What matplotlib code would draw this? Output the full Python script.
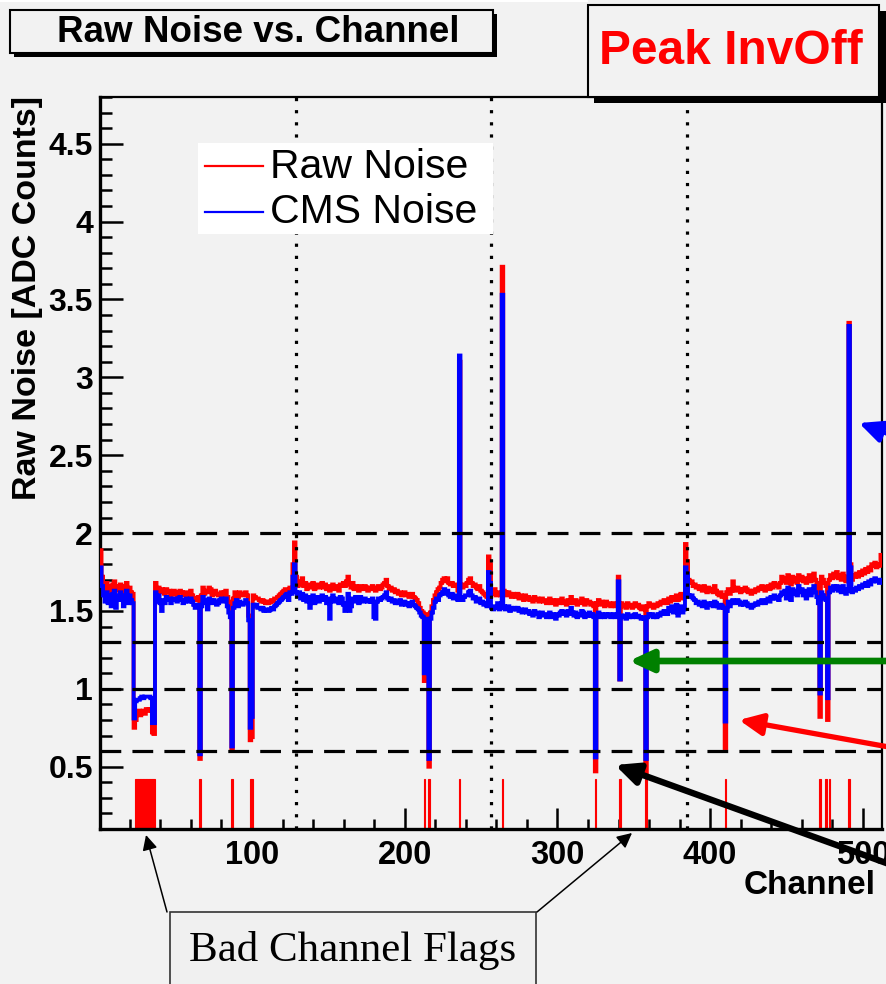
import numpy as np
import matplotlib
matplotlib.use("Agg")
import matplotlib.pyplot as plt
from matplotlib.patches import Rectangle
from matplotlib.patches import ArrowStyle
from matplotlib.ticker import MultipleLocator, FixedLocator, FixedFormatter

plt.rcParams['font.family'] = ['Liberation Sans', 'DejaVu Sans']

# ---------------- data ----------------
channels = np.arange(1, 513)

raw_noise = [
    1.89, 1.72, 1.66, 1.63, 1.68, 1.64, 1.66, 1.62, 1.67, 1.69, 1.64, 1.66, 1.63, 1.67, 1.65, 1.62,
    1.66, 1.68, 1.63, 1.65, 1.62, 1.61, 0.75, 0.80, 0.84, 0.86, 0.83, 0.85, 0.86, 0.84, 0.87, 0.86,
    0.87, 0.86, 0.72, 0.71, 1.68, 1.63, 1.65, 1.62, 1.64, 1.63, 1.61, 1.64, 1.62, 1.63, 1.60, 1.62,
    1.63, 1.61, 1.60, 1.62, 1.63, 1.62, 1.60, 1.61, 1.62, 1.60, 1.61, 1.63, 1.60, 1.58, 1.57, 1.58,
    1.59, 0.55, 1.60, 1.65, 1.61, 1.63, 1.62, 1.65, 1.64, 1.60, 1.62, 1.63, 1.61, 1.60, 1.61, 1.62,
    1.60, 1.62, 1.63, 1.59, 1.56, 1.50, 0.61, 1.58, 1.62, 1.61, 1.59, 1.62, 1.61, 1.60, 1.61, 1.62,
    1.60, 1.47, 0.67, 0.69, 1.60, 1.59, 1.58, 1.58, 1.57, 1.56, 1.57, 1.56, 1.55, 1.56, 1.55, 1.56,
    1.57, 1.56, 1.58, 1.58, 1.59, 1.60, 1.61, 1.62, 1.63, 1.64, 1.64, 1.63, 1.65, 1.64, 1.80, 1.94,
    1.72, 1.66, 1.69, 1.67, 1.71, 1.66, 1.68, 1.64, 1.67, 1.65, 1.66, 1.68, 1.64, 1.66, 1.67, 1.65,
    1.66, 1.68, 1.65, 1.67, 1.64, 1.66, 1.63, 1.65, 1.67, 1.64, 1.66, 1.65, 1.63, 1.67, 1.66, 1.68,
    1.66, 1.69, 1.72, 1.67, 1.65, 1.68, 1.64, 1.66, 1.65, 1.63, 1.66, 1.65, 1.64, 1.66, 1.65, 1.63,
    1.65, 1.64, 1.66, 1.64, 1.63, 1.65, 1.66, 1.64, 1.65, 1.67, 1.68, 1.70, 1.66, 1.64, 1.65, 1.63,
    1.64, 1.62, 1.63, 1.61, 1.62, 1.60, 1.61, 1.62, 1.60, 1.61, 1.59, 1.60, 1.61, 1.59, 1.58, 1.57,
    1.55, 1.52, 1.50, 1.49, 1.05, 1.48, 1.47, 0.50, 1.49, 1.53, 1.57, 1.60, 1.62, 1.64, 1.65, 1.68,
    1.70, 1.71, 1.69, 1.71, 1.68, 1.67, 1.68, 1.66, 1.67, 1.66, 1.63, 3.10, 1.66, 1.65, 1.67, 1.66,
    1.68, 1.70, 1.71, 1.68, 1.66, 1.67, 1.65, 1.64, 1.66, 1.63, 1.62, 1.61, 1.60, 1.59, 1.85, 1.80,
    1.62, 1.61, 1.64, 1.60, 1.62, 1.61, 1.60, 3.71, 1.63, 1.62, 1.60, 1.62, 1.61, 1.59, 1.61, 1.60,
    1.59, 1.61, 1.58, 1.60, 1.59, 1.57, 1.60, 1.58, 1.59, 1.57, 1.58, 1.56, 1.59, 1.57, 1.58, 1.56,
    1.57, 1.58, 1.56, 1.57, 1.55, 1.56, 1.58, 1.55, 1.57, 1.56, 1.54, 1.57, 1.55, 1.56, 1.58, 1.55,
    1.56, 1.54, 1.57, 1.55, 1.59, 1.56, 1.55, 1.57, 1.54, 1.56, 1.55, 1.58, 1.56, 1.54, 1.57, 1.55,
    1.56, 1.54, 1.55, 1.53, 0.47, 1.55, 1.57, 1.54, 1.56, 1.55, 1.53, 1.56, 1.54, 1.55, 1.53, 1.54,
    1.55, 1.53, 1.54, 1.72, 1.06, 1.55, 1.53, 1.54, 1.52, 1.55, 1.53, 1.54, 1.52, 1.53, 1.55, 1.53,
    1.54, 1.52, 1.51, 1.53, 1.52, 0.46, 1.53, 1.55, 1.53, 1.54, 1.52, 1.54, 1.53, 1.55, 1.54, 1.56,
    1.55, 1.57, 1.56, 1.55, 1.58, 1.56, 1.59, 1.57, 1.58, 1.60, 1.57, 1.59, 1.61, 1.58, 1.60, 1.93,
    1.82, 1.70, 1.68, 1.69, 1.66, 1.67, 1.65, 1.66, 1.64, 1.65, 1.63, 1.66, 1.64, 1.62, 1.65, 1.63,
    1.64, 1.62, 1.66, 1.63, 1.61, 1.60, 1.62, 1.59, 1.60, 0.62, 1.62, 1.64, 1.61, 1.63, 1.69, 1.64,
    1.63, 1.65, 1.64, 1.62, 1.64, 1.63, 1.65, 1.64, 1.62, 1.63, 1.61, 1.63, 1.62, 1.64, 1.63, 1.65,
    1.64, 1.66, 1.65, 1.63, 1.65, 1.66, 1.64, 1.67, 1.65, 1.68, 1.66, 1.67, 1.65, 1.68, 1.72, 1.69,
    1.71, 1.68, 1.73, 1.70, 1.67, 1.72, 1.69, 1.71, 1.68, 1.73, 1.70, 1.72, 1.69, 1.71, 1.68, 1.70,
    1.73, 1.69, 1.71, 1.74, 1.70, 1.68, 1.64, 0.82, 1.72, 1.70, 1.68, 1.66, 0.80, 1.70, 1.73, 1.71,
    1.74, 1.72, 1.75, 1.71, 1.73, 1.70, 1.74, 1.72, 1.69, 1.71, 3.35, 1.80, 1.70, 1.73, 1.72, 1.74,
    1.72, 1.75, 1.73, 1.76, 1.74, 1.77, 1.75, 1.78, 1.76, 1.80, 1.79, 1.81, 1.78, 1.80, 1.79, 1.86,
]

cms_noise = [
    1.78, 1.66, 1.60, 1.56, 1.62, 1.55, 1.60, 1.53, 1.61, 1.63, 1.52, 1.60, 1.57, 1.62, 1.58, 1.53,
    1.60, 1.63, 1.55, 1.60, 1.57, 1.55, 0.81, 0.92, 0.93, 0.93, 0.94, 0.95, 0.94, 0.95, 0.95, 0.95,
    0.95, 0.94, 0.78, 0.78, 1.62, 1.56, 1.60, 1.55, 1.50, 1.57, 1.55, 1.59, 1.57, 1.58, 1.55, 1.57,
    1.58, 1.57, 1.56, 1.58, 1.59, 1.57, 1.55, 1.56, 1.58, 1.57, 1.56, 1.58, 1.56, 1.54, 1.52, 1.53,
    1.54, 0.58, 1.53, 1.59, 1.55, 1.57, 1.51, 1.58, 1.57, 1.55, 1.57, 1.56, 1.54, 1.55, 1.57, 1.58,
    1.56, 1.57, 1.58, 1.53, 1.49, 1.46, 0.63, 1.52, 1.55, 1.57, 1.53, 1.56, 1.55, 1.54, 1.55, 1.57,
    1.55, 1.44, 0.75, 0.82, 1.54, 1.53, 1.54, 1.52, 1.52, 1.51, 1.52, 1.50, 1.51, 1.50, 1.50, 1.51,
    1.52, 1.51, 1.53, 1.54, 1.55, 1.56, 1.57, 1.58, 1.59, 1.60, 1.61, 1.57, 1.62, 1.61, 1.72, 1.80,
    1.62, 1.60, 1.62, 1.58, 1.61, 1.57, 1.60, 1.56, 1.59, 1.52, 1.58, 1.60, 1.55, 1.57, 1.59, 1.56,
    1.58, 1.60, 1.57, 1.59, 1.55, 1.58, 1.45, 1.57, 1.60, 1.56, 1.58, 1.57, 1.55, 1.59, 1.58, 1.54,
    1.50, 1.55, 1.61, 1.50, 1.53, 1.58, 1.56, 1.59, 1.58, 1.55, 1.59, 1.57, 1.56, 1.58, 1.57, 1.56,
    1.57, 1.56, 1.58, 1.46, 1.45, 1.56, 1.58, 1.57, 1.58, 1.59, 1.60, 1.62, 1.58, 1.57, 1.58, 1.56,
    1.57, 1.55, 1.56, 1.55, 1.57, 1.54, 1.55, 1.56, 1.54, 1.55, 1.53, 1.55, 1.56, 1.54, 1.53, 1.52,
    1.51, 1.49, 1.47, 1.46, 1.10, 1.44, 1.45, 0.55, 1.45, 1.49, 1.52, 1.56, 1.58, 1.57, 1.60, 1.61,
    1.62, 1.64, 1.61, 1.63, 1.60, 1.59, 1.61, 1.58, 1.60, 1.59, 1.57, 3.14, 1.58, 1.57, 1.59, 1.60,
    1.60, 1.62, 1.63, 1.60, 1.58, 1.59, 1.56, 1.57, 1.58, 1.55, 1.56, 1.54, 1.55, 1.53, 1.75, 1.68,
    1.52, 1.51, 1.53, 1.52, 1.55, 1.51, 1.52, 3.53, 1.53, 1.51, 1.52, 1.53, 1.50, 1.52, 1.51, 1.52,
    1.51, 1.52, 1.50, 1.51, 1.49, 1.50, 1.51, 1.49, 1.50, 1.48, 1.49, 1.47, 1.50, 1.48, 1.49, 1.46,
    1.48, 1.49, 1.47, 1.48, 1.46, 1.47, 1.49, 1.46, 1.48, 1.47, 1.45, 1.48, 1.47, 1.49, 1.50, 1.48,
    1.49, 1.47, 1.50, 1.48, 1.52, 1.49, 1.47, 1.49, 1.46, 1.48, 1.47, 1.50, 1.49, 1.46, 1.48, 1.47,
    1.49, 1.47, 1.48, 1.46, 0.56, 1.47, 1.49, 1.46, 1.48, 1.47, 1.46, 1.48, 1.47, 1.48, 1.46, 1.47,
    1.48, 1.46, 1.47, 1.69, 1.06, 1.47, 1.46, 1.47, 1.45, 1.48, 1.46, 1.47, 1.46, 1.47, 1.48, 1.46,
    1.47, 1.46, 1.45, 1.46, 1.45, 0.55, 1.46, 1.48, 1.47, 1.48, 1.46, 1.47, 1.46, 1.48, 1.47, 1.49,
    1.48, 1.50, 1.49, 1.48, 1.52, 1.50, 1.53, 1.49, 1.52, 1.54, 1.47, 1.50, 1.53, 1.49, 1.51, 1.78,
    1.74, 1.60, 1.59, 1.60, 1.58, 1.57, 1.55, 1.56, 1.54, 1.55, 1.53, 1.56, 1.54, 1.52, 1.55, 1.54,
    1.55, 1.53, 1.56, 1.55, 1.53, 1.52, 1.54, 1.53, 1.52, 0.79, 1.50, 1.56, 1.53, 1.55, 1.57, 1.56,
    1.55, 1.57, 1.56, 1.54, 1.55, 1.54, 1.56, 1.55, 1.53, 1.54, 1.52, 1.53, 1.54, 1.55, 1.54, 1.56,
    1.55, 1.57, 1.56, 1.55, 1.57, 1.58, 1.56, 1.59, 1.58, 1.60, 1.58, 1.59, 1.57, 1.60, 1.62, 1.61,
    1.63, 1.58, 1.65, 1.62, 1.57, 1.64, 1.61, 1.63, 1.60, 1.66, 1.62, 1.64, 1.60, 1.63, 1.58, 1.62,
    1.64, 1.60, 1.63, 1.66, 1.62, 1.59, 1.55, 0.97, 1.62, 1.60, 1.58, 1.57, 0.94, 1.62, 1.65, 1.63,
    1.66, 1.64, 1.66, 1.63, 1.65, 1.62, 1.66, 1.64, 1.61, 1.63, 3.33, 1.78, 1.62, 1.64, 1.63, 1.65,
    1.64, 1.66, 1.65, 1.67, 1.66, 1.68, 1.66, 1.69, 1.67, 1.70, 1.69, 1.71, 1.69, 1.70, 1.68, 1.70,
]

bad_channels = [24, 25, 26, 27, 28, 29, 30, 31, 32, 33, 34, 35, 36,
                66, 87, 99, 100, 213, 216, 236, 264, 325, 341, 358,
                410, 472, 476, 478, 491]
flag_level = 0.42

cut_levels = [2.0, 1.3, 1.0, 0.6]
apv_boundaries = [128.5, 256.5, 384.5]
x_ticks = [100, 200, 300, 400, 500]
y_ticks = [0.5, 1.0, 1.5, 2.0, 2.5, 3.0, 3.5, 4.0, 4.5]
y_tick_labels = ['0.5', '1', '1.5', '2', '2.5', '3', '3.5', '4', '4.5']
x_limits = (0.5, 512.5)
y_limits = (0.1, 4.8)

assert len(raw_noise) == 512 and len(cms_noise) == 512

# ---------------- figure ----------------
W, H = 887, 984
BG = '#f2f2f2'
fig = plt.figure(figsize=(W / 100, H / 100), dpi=100, facecolor=BG)

ax = fig.add_axes([100 / W, 1 - 829 / H, 782 / W, 732 / H])
ax.set_facecolor(BG)
ax.set_xlim(*x_limits)
ax.set_ylim(*y_limits)

edges = np.arange(x_limits[0], x_limits[1] + 0.5, 1.0)

ax.bar(bad_channels, flag_level - y_limits[0], bottom=y_limits[0], width=1.0,
       color='red', edgecolor='red', lw=0.8, zorder=2)
ax.stairs(raw_noise, edges, baseline=None, color='#ff0000', lw=2.8, zorder=3)
ax.stairs(cms_noise, edges, baseline=None, color='#0000ff', lw=2.8, zorder=4)

for y in cut_levels:
    ax.axhline(y, color='black', lw=2.3, ls=(0, (6.5, 3.5)), zorder=5)
for x in apv_boundaries:
    ax.axvline(x, color='black', lw=2.3, ls=(0, (1, 2.8)), zorder=5)

ax.xaxis.set_major_locator(FixedLocator(x_ticks))
ax.xaxis.set_minor_locator(MultipleLocator(20))
ax.yaxis.set_major_locator(FixedLocator(y_ticks))
ax.yaxis.set_major_formatter(FixedFormatter(y_tick_labels))
ax.yaxis.set_minor_locator(MultipleLocator(0.1))

ax.tick_params(axis='x', which='major', direction='in', length=15, width=1.8,
               pad=8, labelsize=23.5, top=False)
ax.tick_params(axis='x', which='minor', direction='in', length=7, width=1.8, top=False)
ax.tick_params(axis='y', which='major', direction='in', length=16.5, width=1.8,
               pad=5, labelsize=23, right=False)
ax.tick_params(axis='y', which='minor', direction='in', length=8.5, width=1.8, right=False)
for lbl in ax.get_xticklabels() + ax.get_yticklabels():
    lbl.set_fontweight('bold')

for side in ['left', 'bottom']:
    ax.spines[side].set_linewidth(2.4)
for side in ['top', 'right']:
    ax.spines[side].set_linewidth(1.6)

# ---------------- overlay in pixel coordinates ----------------
ov = fig.add_axes([0, 0, 1, 1], zorder=10)
ov.set_xlim(0, W)
ov.set_ylim(H, 0)
ov.axis('off')
ov.patch.set_alpha(0)

# thin white strip at top
ov.add_patch(Rectangle((0, 0), 588, 2, fc='white', ec='none'))

# title box with shadow
ov.add_patch(Rectangle((14, 14), 483, 43, fc='black', ec='none'))
ov.add_patch(Rectangle((10, 10), 483, 43, fc=BG, ec='black', lw=1.5))
ov.text(258, 32, 'Raw Noise vs. Channel', ha='center', va='center',
        fontsize=26.5, fontweight='bold')

# Peak InvOff box with shadow
ov.add_patch(Rectangle((594, 11), 292, 92, fc='black', ec='none'))
ov.add_patch(Rectangle((588, 5), 291, 92, fc=BG, ec='black', lw=1.5))
ov.text(731, 51, 'Peak InvOff', ha='center', va='center', color='#ff0000',
        fontsize=34.5, fontweight='bold')

# legend
ov.add_patch(Rectangle((198, 143), 295, 91, fc='white', ec='none'))
ov.plot([205, 263], [166, 166], color='#ff0000', lw=1.6)
ov.plot([205, 263], [212, 212], color='#0000ff', lw=1.6)
ov.text(270, 167, 'Raw Noise', ha='left', va='center', fontsize=29.5)
ov.text(270, 212, 'CMS Noise', ha='left', va='center', fontsize=29.5)

# axis titles
ov.text(28, 96, 'Raw Noise [ADC Counts]', rotation=90, ha='center', va='top',
        fontsize=24.5, fontweight='bold')
ov.text(876, 885, 'Channel', ha='right', va='center', fontsize=24, fontweight='bold')

# Bad channel flags box
ov.add_patch(Rectangle((170, 912), 366, 100, fc='#f0f0f0', ec='#333333', lw=1.2))
ov.text(353, 951, 'Bad Channel Flags', ha='center', va='center', fontsize=31,
        family=['Liberation Serif', 'DejaVu Serif'])


def arrow(tail, tip, color, lw, hl, hw):
    ov.annotate('', xy=tip, xytext=tail, annotation_clip=False,
                arrowprops=dict(arrowstyle=ArrowStyle('-|>', head_length=hl, head_width=hw),
                                mutation_scale=1, color=color, lw=lw,
                                shrinkA=0, shrinkB=0))


arrow((167, 912), (146, 835), 'black', 1.1, 9, 4.5)
arrow((537, 912), (632, 833), 'black', 1.1, 9, 4.5)
arrow((905, 440), (859, 423), '#0000ff', 3.5, 14, 6.5)
arrow((900, 661), (629, 661), '#008000', 4.8, 14, 6.5)
arrow((900, 749), (739, 720), '#ff0000', 3.8, 14, 6.5)
arrow((900, 868), (615, 765), 'black', 4.6, 14, 6.5)

fig.savefig('out.png', dpi=100, facecolor=BG)
